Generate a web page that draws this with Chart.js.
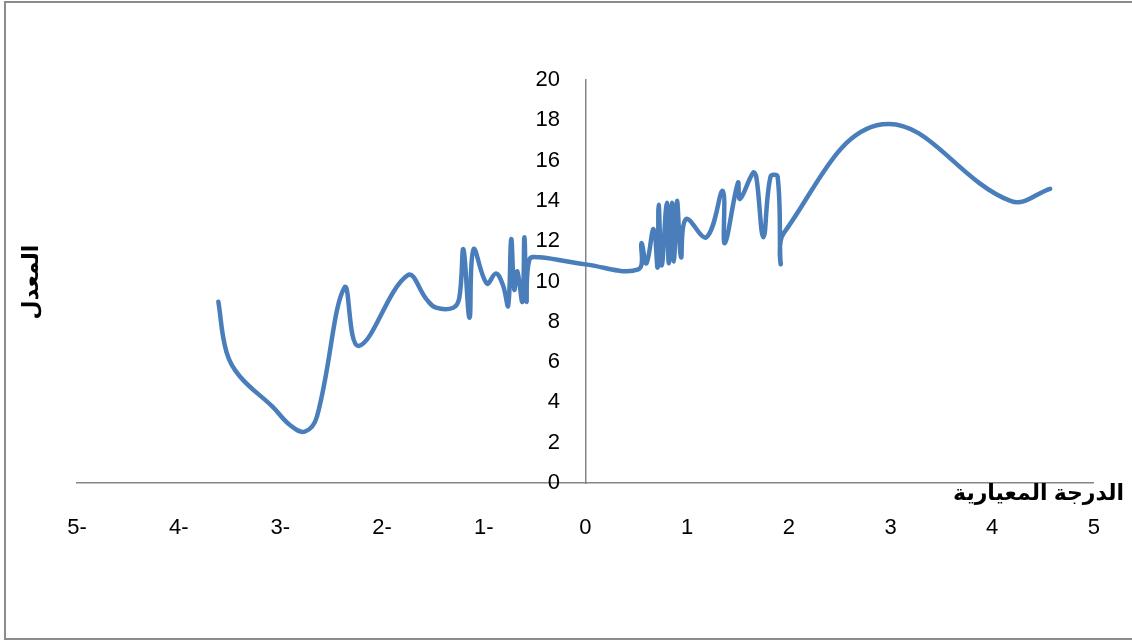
<!DOCTYPE html>
<html lang="ar">
<head>
<meta charset="utf-8">
<script src="https://cdn.jsdelivr.net/npm/chart.js@4.4.1/dist/chart.umd.min.js"></script>
<style>
  body { margin: 0; background: #fff; }
  .marco { position: relative; width: 1132px; height: 641px; overflow: hidden; }
  .borde { position: absolute; left: 4px; top: 1px; width: 1140px; height: 635px; border: 2px solid #8c8c8c; box-sizing: content-box; }
  #grafico { position: absolute; left: 0; top: 0; }
</style>
</head>
<body>
<div class="marco">
  <div class="borde"></div>
  <canvas id="grafico" width="1132" height="641"></canvas>
</div>
<script>
// Datos: puntaje estándar (x) y promedio (y)
const puntajes = [
  -3.61, -3.53, -3.40, -3.08, -2.90, -2.76, -2.64, -2.37, -2.23,
  -1.75, -1.56, -1.47, -1.30, -1.24, -1.20, -1.14, -1.10, -0.97, -0.88,
  -0.81, -0.76, -0.73, -0.70, -0.67, -0.62, -0.60, -0.58, -0.55, -0.45,
  0.0, 0.52, 0.55, 0.60, 0.67, 0.71, 0.72, 0.75, 0.80, 0.82,
  0.85, 0.87, 0.90, 0.94, 0.99, 1.19, 1.35, 1.37, 1.50, 1.52,
  1.65, 1.68, 1.75, 1.82, 1.89, 1.92, 1.95, 2.92, 4.18, 4.57
];
const promedios = [
  9.0, 6.5, 5.3, 3.8, 2.85, 2.55, 3.3, 9.7, 6.8,
  10.3, 9.1, 8.7, 8.7, 9.2, 11.6, 8.2, 11.6, 9.9, 10.4,
  9.8, 8.8, 12.1, 9.6, 10.5, 9.0, 12.2, 9.0, 11.1, 11.2,
  10.85, 10.6, 11.9, 10.9, 12.6, 10.7, 13.8, 10.8, 13.9, 10.9,
  13.9, 11.0, 14.0, 11.2, 13.1, 12.2, 14.5, 11.9, 14.9, 14.1,
  15.4, 15.2, 12.2, 15.2, 15.2, 10.9, 12.4, 17.8, 14.0, 14.6
];
const ticksX = [-5, -4, -3, -2, -1, 0, 1, 2, 3, 4, 5];
const ticksY = [0, 2, 4, 6, 8, 10, 12, 14, 16, 18, 20];
const tituloX = "الدرجة المعيارية";
const tituloY = "المعدل";

const azul = "#4a7ebb";
const gris = "#868686";
const fuente = { family: "'Liberation Sans', Arial, sans-serif", size: 22 };

let puntos = [];
puntajes.forEach((x, i) => {
  puntos.push({ x: x, y: promedios[i] });
});

// Títulos de ejes dibujados a mano, como en Excel
const titulos = {
  id: "titulos",
  afterDraw(chart) {
    const ctx = chart.ctx;
    ctx.save();
    ctx.fillStyle = "#000";
    ctx.font = "bold 22px Arial, 'DejaVu Sans', sans-serif";
    ctx.textBaseline = "middle";
    ctx.textAlign = "right";
    ctx.fillText(tituloX, 1124, 494);
    ctx.translate(32, 282);
    ctx.rotate(-Math.PI / 2);
    ctx.textAlign = "center";
    ctx.fillText(tituloY, 0, 0);
    ctx.restore();
  },
};

new Chart(document.getElementById("grafico"), {
  type: "scatter",
  data: {
    datasets: [
      {
        data: puntos,
        showLine: true,
        borderColor: azul,
        borderWidth: 4.5,
        tension: 0.4,
        pointRadius: 0,
        pointHoverRadius: 0,
        borderCapStyle: "round",
        borderJoinStyle: "round",
      },
    ],
  },
  options: {
    responsive: false,
    animation: false,
    layout: {
      padding: { left: 77, right: 35, top: 80, bottom: 158 },
    },
    plugins: {
      legend: { display: false },
      tooltip: { enabled: false },
    },
    scales: {
      x: {
        type: "linear",
        min: -5,
        max: 5,
        position: { y: 0 },
        afterFit: (s) => { s.height = 0; },
        afterBuildTicks: (s) => { s.ticks = ticksX.map((v) => ({ value: v })); },
        grid: { display: false, drawTicks: false },
        border: { display: true, color: gris, width: 1.5 },
        ticks: {
          color: "#000",
          font: fuente,
          padding: 32,
          maxRotation: 0,
          autoSkip: false,
          callback: (v) => (v < 0 ? Math.abs(v) + "-" : String(v)),
        },
      },
      // eje vertical que cruza en x = 0 (solo la línea)
      y: {
        type: "linear",
        min: 0,
        max: 20,
        position: { x: 0 },
        afterFit: (s) => { s.width = 0; },
        grid: { display: false, drawTicks: false },
        border: { display: true, color: gris, width: 1.5 },
        ticks: { display: false },
      },
      // etiquetas del eje vertical, un poco a la izquierda de la línea
      yEtiquetas: {
        type: "linear",
        axis: "y",
        min: 0,
        max: 20,
        position: { x: -0.25 },
        afterFit: (s) => { s.width = 0; },
        afterBuildTicks: (s) => { s.ticks = ticksY.map((v) => ({ value: v })); },
        grid: { display: false, drawTicks: false },
        border: { display: false },
        ticks: {
          color: "#000",
          font: fuente,
          autoSkip: false,
        },
      },
    },
  },
  plugins: [titulos],
});
</script>
</body>
</html>
